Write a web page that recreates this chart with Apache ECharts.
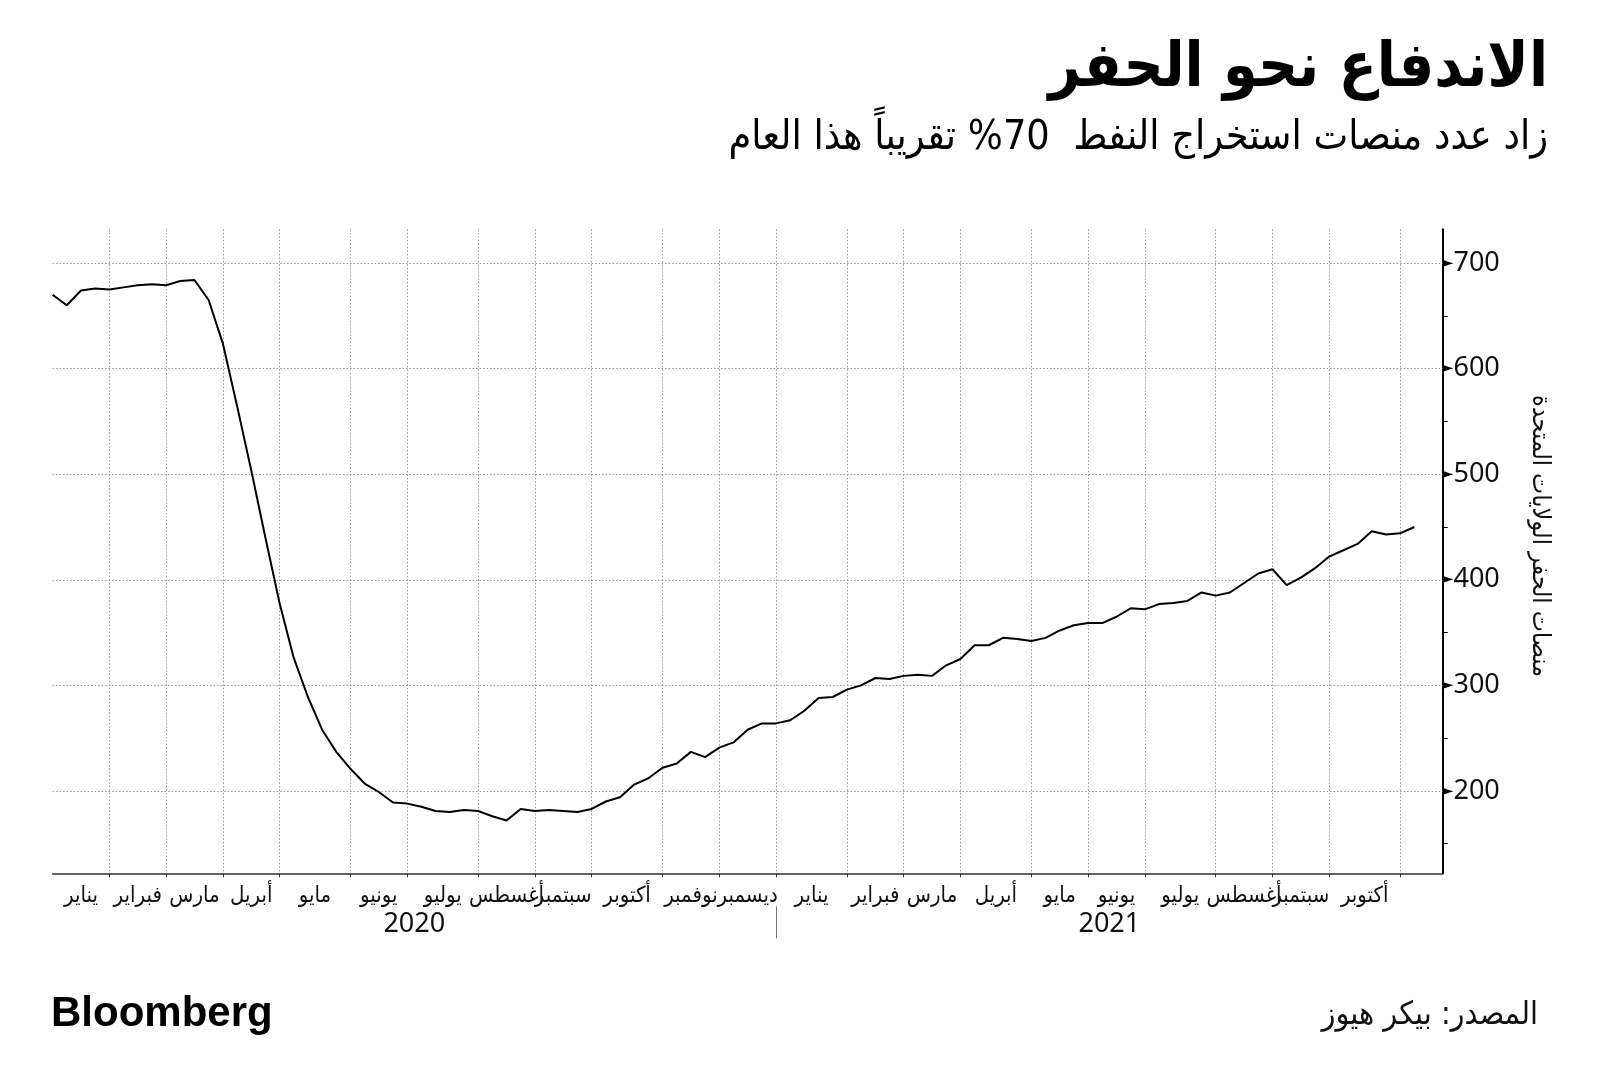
<!DOCTYPE html>
<html><head><meta charset="utf-8">
<script src="https://cdn.jsdelivr.net/npm/echarts@6/dist/echarts.min.js"></script>
<style>html,body{margin:0;padding:0;background:#fff}#c{width:1600px;height:1092px}</style>
</head><body><div id="c"></div>
<script>
// ---- data ----
const startWeek = '2020-01-03';
const totalWeeks = 99; // axis length in weeks (last two without data)
const rigCount = [
  670, 660, 674, 676, 675, 677, 679, 680, 679, 683, 684, 665, 624,
  565, 504, 440, 378, 326, 289, 258, 237, 221, 207, 199, 189, 188,
  185, 181, 180, 182, 181, 176, 172, 183, 181, 182, 181, 180, 183, 190,
  194, 206, 212, 222, 226, 237,
  232, 241, 246, 258, 264, 264, 267, 276, 288, 289, 296, 300, 307, 306,
  309, 310, 309, 319, 325, 338, 338, 345, 344, 342, 345, 352, 357,
  359, 359, 365, 373, 372, 377, 378, 380, 388, 385, 388, 397, 406, 410,
  395, 402, 411, 422, 428, 434, 446, 443, 444, 450
];
const monthNames = ['يناير','فبراير','مارس','أبريل','مايو','يونيو','يوليو','أغسطس','سبتمبر','أكتوبر','نوفمبر','ديسمبر',
                    'يناير','فبراير','مارس','أبريل','مايو','يونيو','يوليو','أغسطس','سبتمبر','أكتوبر'];
const monthBoundaries = [0,4,8,12,16,21,25,30,34,38,43,47,51,56,60,64,69,73,77,82,86,90,95,98];
const yearNames = ['2020','2021'];
const yearBoundaries = [0,51,98];
const yGridValues = [200,300,400,500,600,700];
const yTickValues = [150,200,250,300,350,400,450,500,550,600,650,700];
const yMin = 122, yMax = 732;

const titleText = 'الاندفاع نحو الحفر';
const subtitleText = 'زاد عدد منصات استخراج النفط  70% تقريباً هذا العام';
const yAxisTitle = 'منصات الحفر الولايات المتحدة';
const sourceText = 'المصدر: بيكر هيوز';

// ---- derived ----
const weeks = [];
let d = new Date(startWeek + 'T00:00:00Z');
for (let i = 0; i < totalWeeks; i++) { weeks.push(d.toISOString().slice(0,10)); d = new Date(d.getTime() + 7*864e5); }
const gridWeekSet = new Set(monthBoundaries.slice(1, -1));
const halfN = 2*(totalWeeks-1) + 1;
const halfCats = []; for (let k = 0; k < halfN; k++) halfCats.push('h' + k);
const monthLabelAt = new Array(halfN).fill('');
for (let m = 0; m < monthNames.length; m++) monthLabelAt[monthBoundaries[m] + monthBoundaries[m+1]] = monthNames[m];
const yearLabelAt = new Array(halfN).fill('');
for (let y = 0; y < yearNames.length; y++) yearLabelAt[yearBoundaries[y] + yearBoundaries[y+1]] = yearNames[y];
const yearSepSet = new Set(yearBoundaries.slice(1, -1).map(v => 2*v));

const AR = '"DejaVu Sans Condensed","DejaVu Sans",sans-serif';
const NUM = '"Noto Sans","Open Sans",sans-serif';

const chart = echarts.init(document.getElementById('c'), null, {renderer: 'canvas'});
chart.setOption({
  animation: false,
  backgroundColor: '#fff',
  grid: {left: 52.6, right: 157.3, top: 229.3, bottom: 218.7, containLabel: false},
  xAxis: [
    {
      type: 'category', data: weeks, boundaryGap: false, position: 'bottom',
      axisLine: {show: true, lineStyle: {color: '#333', width: 1.5}},
      axisTick: {show: true, length: 4, interval: (i) => gridWeekSet.has(i), lineStyle: {color: '#333', width: 1}},
      axisLabel: {show: false},
      splitLine: {show: true, interval: (i) => gridWeekSet.has(i), lineStyle: {color: '#999', width: 1, type: [1.5, 2]}}
    },
    {
      type: 'category', data: halfCats, boundaryGap: false, position: 'bottom', offset: 0,
      axisLine: {show: false}, axisTick: {show: false}, splitLine: {show: false},
      axisLabel: {show: true, interval: (i) => monthLabelAt[i] !== '', formatter: (v, i) => monthLabelAt[i],
        margin: 12, fontSize: 22, fontFamily: AR, color: '#111', hideOverlap: false}
    },
    {
      type: 'category', data: halfCats, boundaryGap: false, position: 'bottom', offset: 33,
      axisLine: {show: false}, splitLine: {show: false},
      axisTick: {show: true, length: 32, interval: (i) => yearSepSet.has(i), lineStyle: {color: '#777', width: 1}},
      axisLabel: {show: true, interval: (i) => yearLabelAt[i] !== '', formatter: (v, i) => yearLabelAt[i],
        margin: 5, fontSize: 27, fontFamily: NUM, color: '#111', hideOverlap: false}
    }
  ],
  yAxis: {
    type: 'value', position: 'right', min: yMin, max: yMax, splitNumber: 12,
    axisLine: {show: true, lineStyle: {color: '#000', width: 2}},
    axisTick: {show: true, length: 5, customValues: yTickValues, lineStyle: {color: '#000', width: 1}},
    splitLine: {show: false},
    axisLabel: {
      show: true, margin: 0, customValues: yGridValues,
      formatter: (v) => yGridValues.indexOf(Math.round(v)) >= 0 && Math.abs(v - Math.round(v)) < 1e-6 ? '{t|►}{n|' + Math.round(v) + '}' : '',
      rich: {
        t: {fontSize: 14, fontFamily: '"DejaVu Sans"', color: '#000', lineHeight: 30},
        n: {fontSize: 27, fontFamily: NUM, color: '#111', lineHeight: 30, padding: [0,0,0,0]}
      }
    }
  },
  series: [{
    type: 'line', data: rigCount, xAxisIndex: 0, yAxisIndex: 0,
    symbol: 'none', z: 5,
    lineStyle: {color: '#000', width: 2},
    markLine: {
      silent: true, symbol: ['none','none'], label: {show: false}, z: 1,
      lineStyle: {color: '#999', width: 1, type: [1.5, 2]},
      emphasis: {disabled: true},
      data: yGridValues.map(v => ({yAxis: v}))
    }
  }],
  graphic: [
    {type: 'text', x: 1548, y: 70, style: {text: titleText, textAlign: 'right', textVerticalAlign: 'middle',
      font: 'bold 62px ' + AR, fill: '#000'}},
    {type: 'text', x: 1548, y: 138, style: {text: subtitleText, textAlign: 'right', textVerticalAlign: 'middle',
      font: '41px ' + AR, fill: '#000'}},
    {type: 'text', x: 1539, y: 536, rotation: -Math.PI/2, style: {text: yAxisTitle, textAlign: 'center', textVerticalAlign: 'middle',
      font: '25px ' + AR, fill: '#111'}},
    {type: 'text', x: 51, y: 1014, style: {text: 'Bloomberg', textAlign: 'left', textVerticalAlign: 'middle',
      font: 'bold 42px "Liberation Sans", Arial, sans-serif', fill: '#000'}},
    {type: 'text', x: 1538, y: 1016, style: {text: sourceText, textAlign: 'right', textVerticalAlign: 'middle',
      font: '32px ' + AR, fill: '#111'}}
  ]
});
</script>
</body></html>
